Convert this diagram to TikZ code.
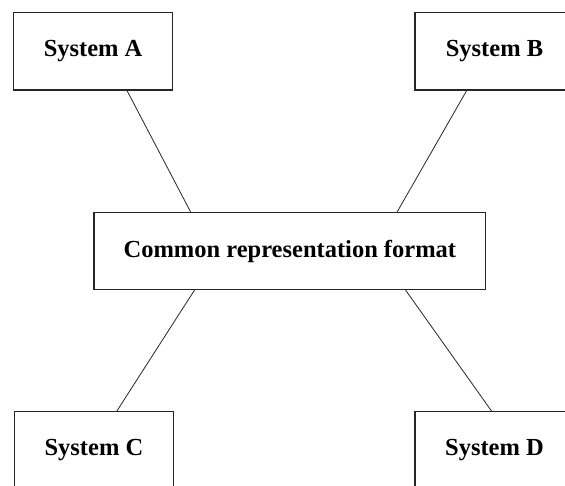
\documentclass[tikz,border=0pt]{standalone}
\usepackage{fontspec}
\setmainfont{Liberation Serif}
\usetikzlibrary{calc}
\begin{document}
\begin{tikzpicture}[x=1pt,y=-1pt,
  sysbox/.style={draw=black!85, line width=1.2pt, fill=white, inner sep=0pt, outer sep=0pt,
    minimum width=159.2pt, minimum height=77.3pt,
    font=\fontsize{24.5}{28}\selectfont\bfseries},
  hubbox/.style={sysbox, minimum width=391.7pt, minimum height=76.6pt},
  link/.style={draw=black!85, line width=0.8pt}]
  \useasboundingbox (0,0) rectangle (565,486);
  \clip (0,0) rectangle (565,486);
  \fill[white] (0,0) rectangle (565,486);

  % the four systems and the shared format in the middle
  \node[sysbox] (A) at (93.1,51.35) {System A};
  \node[sysbox] (B) at (494.5,51.35) {System B};
  \node[hubbox] (H) at (289.85,251) {Common representation format};
  \node[sysbox] (C) at (93.9,449.95) {System C};
  \node[sysbox] (D) at (494.5,449.95) {System D};

  % links from each system to the common format
  \draw[link] ($(A.south)+(33.6,0)$) -- ($(H.north)+(-98.85,0)$);
  \draw[link] ($(B.south)+(-27.5,0)$) -- ($(H.north)+(106.85,0)$);
  \draw[link] ($(H.south)+(-94.85,0)$) -- ($(C.north)+(22.8,0)$);
  \draw[link] ($(H.south)+(115.15,0)$) -- ($(D.north)+(-2.8,0)$);
\end{tikzpicture}
\end{document}
